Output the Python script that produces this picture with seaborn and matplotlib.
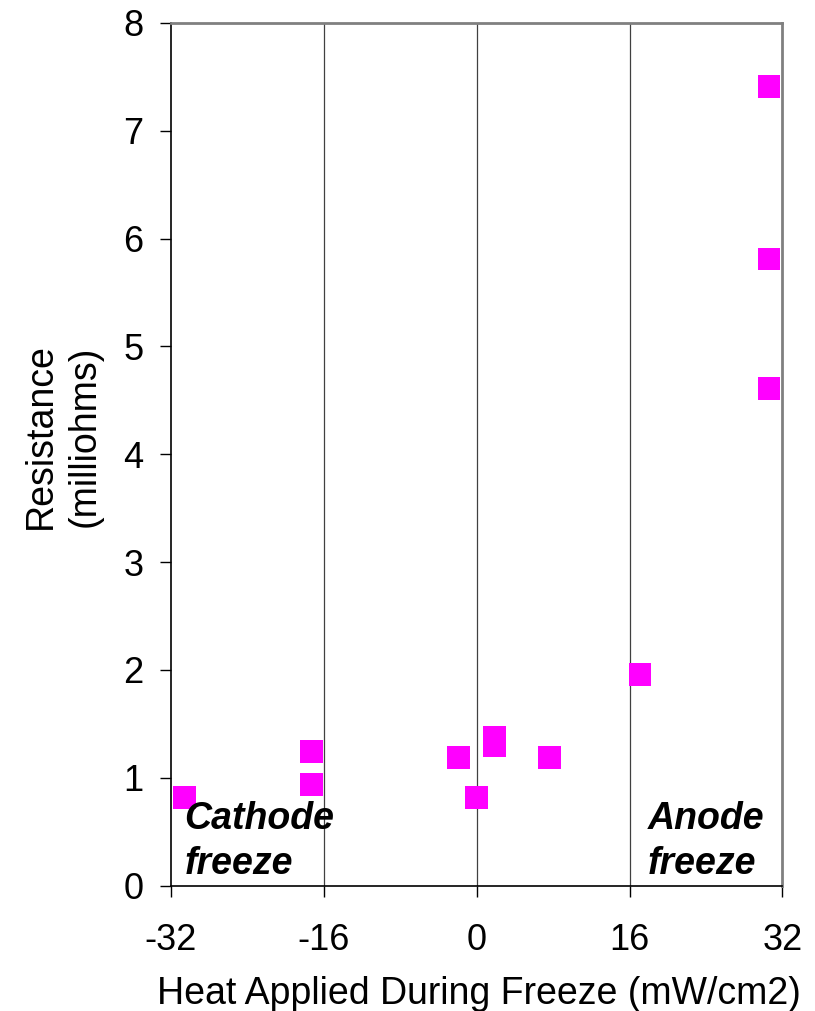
import matplotlib
matplotlib.use("Agg")
import matplotlib.pyplot as plt
import seaborn as sns
import pandas as pd

heat = [-30.6, -17.3, -17.3, -1.9, 0.0, 1.9, 1.9, 7.6, 17.1, 30.6, 30.6, 30.6]
resistance = [0.82, 1.24, 0.94, 1.19, 0.82, 1.37, 1.30, 1.19, 1.96, 7.41, 5.81, 4.61]
x_ticks = [-32, -16, 0, 16, 32]
y_ticks = [0, 1, 2, 3, 4, 5, 6, 7, 8]

df = pd.DataFrame({"heat": heat, "resistance": resistance})

sns.set_style("white")
plt.rcParams['font.family'] = ['Liberation Sans', 'DejaVu Sans']
plt.rcParams['text.color'] = 'black'
plt.rcParams['axes.labelcolor'] = 'black'

fig = plt.figure(figsize=(8.15, 10.11), dpi=100)
ax = fig.add_axes([0.2098, 0.1241, 0.7502, 0.8532])

for gx in [-16, 0, 16]:
    ax.axvline(gx, color='#404040', linewidth=0.9, zorder=0)

sns.scatterplot(data=df, x="heat", y="resistance", marker='s', s=270,
                color='#FF00FF', edgecolor='none', linewidth=0, ax=ax, zorder=3,
                legend=False)

ax.set_xlim(-32, 32)
ax.set_ylim(0, 8)
ax.set_xticks(x_ticks)
ax.set_yticks(y_ticks)
ax.set_xticklabels([str(t) for t in x_ticks], fontsize=26, color='black')
ax.set_yticklabels([str(t) for t in y_ticks], fontsize=26, color='black')
ax.tick_params(axis='x', direction='out', length=8, width=1, pad=19, bottom=True, colors='black')
ax.tick_params(axis='y', direction='out', length=8, width=1, pad=12, left=True, colors='black')

for side in ['left', 'bottom']:
    ax.spines[side].set_color('black')
    ax.spines[side].set_linewidth(1.2)
for side in ['top', 'right']:
    ax.spines[side].set_color('#808080')
    ax.spines[side].set_linewidth(2)

ax.set_xlabel("Heat Applied During Freeze (mW/cm2)", fontsize=27, color='black')
ax.set_ylabel("Resistance\n(milliohms)", fontsize=27, linespacing=1.3, color='black')
ax.xaxis.set_label_coords(0.504, -0.105)
ax.yaxis.set_label_coords(-0.111, 0.521)

ax.text(-30.6, 0.035, "Cathode\nfreeze", fontsize=27, fontweight='bold', fontstyle='italic',
        ha='left', va='bottom', linespacing=1.3, color='black')
ax.text(17.9, 0.035, "Anode\nfreeze", fontsize=27, fontweight='bold', fontstyle='italic',
        ha='left', va='bottom', linespacing=1.3, color='black')

fig.savefig("out.png", dpi=100)
